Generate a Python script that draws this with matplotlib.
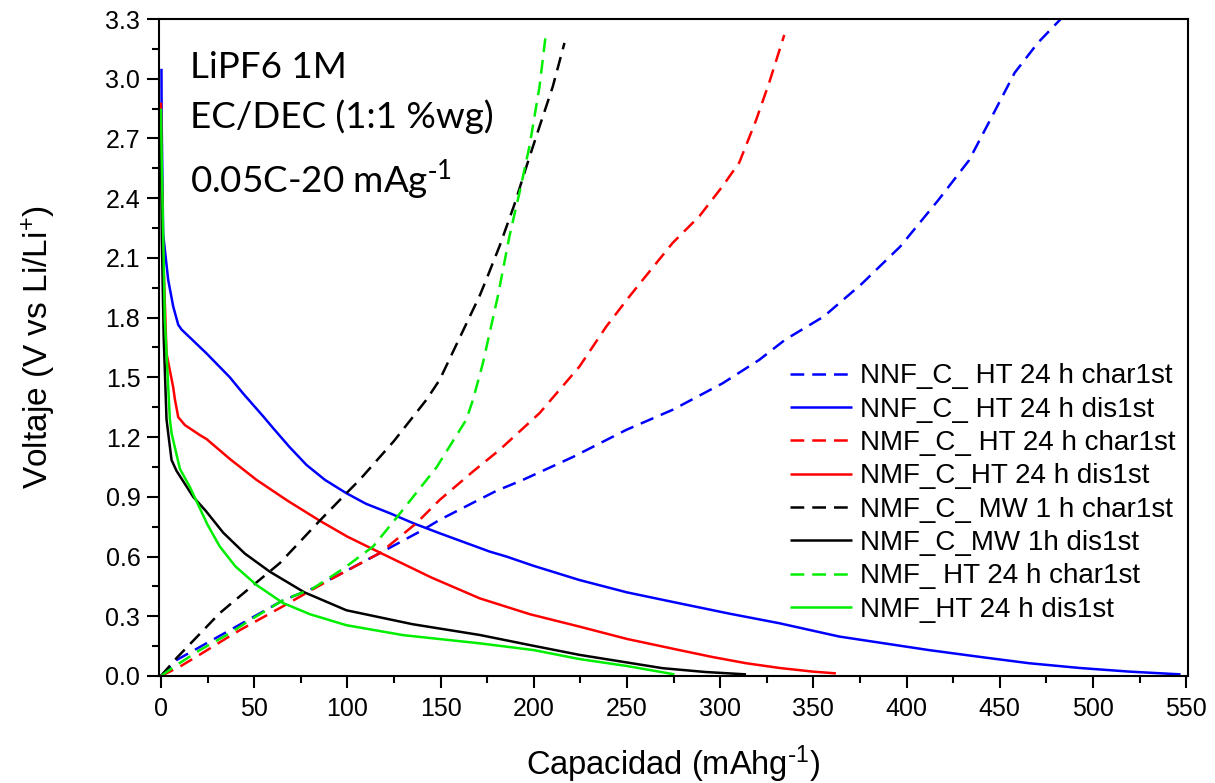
import matplotlib
matplotlib.use("Agg")
import matplotlib.pyplot as plt
from matplotlib.ticker import MultipleLocator

plt.rcParams['font.family'] = ['Liberation Sans', 'DejaVu Sans']
plt.rcParams['mathtext.default'] = 'regular'

# First-cycle charge / discharge curves: capacity (mAh/g) vs voltage (V)
nnf_ht_char_x = [0, 8.4, 37, 65.5, 81.6, 117.4, 140.6, 149.5, 167.4, 180, 194.2, 221, 249.6,
                 274.5, 301.3, 321, 335, 355.5, 376, 396.6, 417, 433.5, 445.8, 458, 470.4, 482.7]
nnf_ht_char_v = [0, 0.08, 0.23, 0.38, 0.44, 0.617, 0.734, 0.784, 0.87, 0.93, 0.985, 1.10, 1.236,
                 1.337, 1.47, 1.588, 1.69, 1.805, 1.97, 2.157, 2.39, 2.59, 2.81, 3.03, 3.18, 3.30]

nnf_ht_dis_x = [0.3, 0.4, 1.2, 3.9, 6.6, 9.3, 11.1, 24.5, 37, 44, 54.8, 60.2, 69, 78.1, 88,
                99.5, 110, 122.7, 136, 149.5, 176.3, 185.3, 200, 224.5, 250, 278.1, 305,
                331.7, 363.9, 412, 440, 465.7, 493, 519.3, 547]
nnf_ht_dis_v = [3.05, 2.79, 2.22, 1.99, 1.856, 1.764, 1.74, 1.62, 1.50, 1.42, 1.305, 1.245,
                1.15, 1.06, 0.985, 0.918, 0.865, 0.818, 0.765, 0.717, 0.625, 0.60, 0.553,
                0.482, 0.42, 0.365, 0.313, 0.265, 0.198, 0.13, 0.095, 0.064, 0.04, 0.022,
                0.008]

nmf_c_ht_char_x = [0, 10.2, 19.1, 35.2, 42.3, 65.5, 88.8, 117.4, 137, 149.5, 167.4, 181.7,
                   203.1, 224.5, 238.9, 251.3, 258.5, 274.5, 288.9, 301.3, 310.3, 319.2,
                   326.3, 334.4]
nmf_c_ht_char_v = [0, 0.047, 0.097, 0.19, 0.23, 0.35, 0.474, 0.617, 0.767, 0.884, 1.027,
                   1.136, 1.32, 1.554, 1.755, 1.906, 1.99, 2.175, 2.31, 2.46, 2.58, 2.79,
                   2.98, 3.22]

nmf_c_ht_dis_x = [0, 0.5, 1.2, 3, 6.6, 7.5, 9.3, 12.9, 20.9, 24.5, 37, 51.3, 68, 85.2, 100,
                  117.4, 145, 171, 198, 224.5, 250, 278.1, 296, 313.9, 332, 349.6, 362.1]
nmf_c_ht_dis_v = [2.88, 2.5, 2.13, 1.62, 1.45, 1.39, 1.30, 1.26, 1.21, 1.19, 1.09, 0.985,
                  0.88, 0.78, 0.70, 0.62, 0.495, 0.39, 0.31, 0.248, 0.186, 0.13, 0.095,
                  0.064, 0.04, 0.022, 0.013]

nmf_c_mw_char_x = [0, 8.4, 31.6, 42.3, 63.8, 85.2, 99.5, 106.6, 125, 142.4, 149.5, 171,
                   174.5, 181.7, 189.7, 196.8, 203.1, 210.2, 216.5]
nmf_c_mw_char_v = [0, 0.09, 0.316, 0.40, 0.567, 0.78, 0.918, 0.985, 1.18, 1.387, 1.487,
                   1.91, 1.99, 2.16, 2.37, 2.58, 2.76, 2.96, 3.18]

nmf_c_mw_dis_x = [0, 0.5, 1.5, 3, 3.9, 5.7, 8.4, 17.3, 24, 33.4, 45, 58.4, 77, 99.5, 135,
                  171, 198, 224.5, 269.2, 292, 313.9]
nmf_c_mw_dis_v = [2.75, 2.2, 1.7, 1.29, 1.22, 1.085, 1.03, 0.90, 0.83, 0.72, 0.615, 0.524,
                  0.42, 0.33, 0.26, 0.206, 0.155, 0.106, 0.039, 0.02, 0.008]

nmf_ht_char_x = [0, 8.4, 20.9, 37, 47.7, 65.5, 81.6, 98, 113.8, 126, 148, 163.8, 167.4,
                 172.7, 180.8, 187, 192.4, 197.7, 203.1, 206.3]
nmf_ht_char_v = [0, 0.055, 0.13, 0.215, 0.28, 0.38, 0.44, 0.54, 0.65, 0.79, 1.05, 1.287,
                 1.387, 1.57, 1.91, 2.21, 2.43, 2.66, 2.96, 3.21]

nmf_ht_dis_x = [0, 0.4, 2.1, 4.8, 5.7, 10.2, 15.5, 19, 25, 31.6, 40, 51.3, 65.4, 80, 99.5,
                130, 171, 200, 224.5, 250, 275.5]
nmf_ht_dis_v = [2.85, 2.6, 1.79, 1.29, 1.22, 1.04, 0.95, 0.88, 0.76, 0.65, 0.55, 0.457,
                0.367, 0.31, 0.255, 0.205, 0.164, 0.13, 0.085, 0.05, 0.008]

labels = ["NNF_C_ HT 24 h char1st", "NNF_C_ HT 24 h dis1st",
          "NMF_C_ HT 24 h char1st", "NMF_C_HT 24 h dis1st",
          "NMF_C_ MW 1 h char1st", "NMF_C_MW 1h dis1st",
          "NMF_ HT 24 h char1st", "NMF_HT 24 h dis1st"]

x_ticks = [0, 50, 100, 150, 200, 250, 300, 350, 400, 450, 500, 550]
y_ticks = [0.0, 0.3, 0.6, 0.9, 1.2, 1.5, 1.8, 2.1, 2.4, 2.7, 3.0, 3.3]

BLUE, RED, BLACK, GREEN = "#0000ff", "#ff0000", "#000000", "#00ee00"

fig = plt.figure(figsize=(12.15, 7.83), dpi=100)
ax = fig.add_axes([0.1309, 0.1367, 0.8469, 0.839])

series = [
    (nnf_ht_char_x, nnf_ht_char_v, BLUE, True),
    (nnf_ht_dis_x, nnf_ht_dis_v, BLUE, False),
    (nmf_c_ht_char_x, nmf_c_ht_char_v, RED, True),
    (nmf_c_ht_dis_x, nmf_c_ht_dis_v, RED, False),
    (nmf_c_mw_char_x, nmf_c_mw_char_v, BLACK, True),
    (nmf_c_mw_dis_x, nmf_c_mw_dis_v, BLACK, False),
    (nmf_ht_char_x, nmf_ht_char_v, GREEN, True),
    (nmf_ht_dis_x, nmf_ht_dis_v, GREEN, False),
]

for (xs, vs, col, dashed), lab in zip(series, labels):
    line, = ax.plot(xs, vs, color=col, lw=1.8, label=lab, solid_capstyle='butt',
                    solid_joinstyle='round')
    if dashed:
        line.set_dashes((5.5, 3.2))

ax.set_xlim(-1, 551)
ax.set_ylim(0, 3.3)
ax.set_xticks(x_ticks)
ax.set_yticks(y_ticks)
ax.set_yticklabels([f"{v:.1f}" for v in y_ticks])
ax.xaxis.set_minor_locator(MultipleLocator(25))
ax.yaxis.set_minor_locator(MultipleLocator(0.15))

for sp in ax.spines.values():
    sp.set_linewidth(1.5)
ax.tick_params(which='both', direction='out', top=False, right=False, width=1.5)
ax.tick_params(which='major', length=8.5, labelsize=18)
ax.tick_params(axis='x', which='major', pad=7)
ax.tick_params(axis='y', which='major', pad=5)
ax.tick_params(which='minor', length=5)

ax.set_xlabel(r"Capacidad (mAhg$^{\text{-}1}$)", fontsize=23.5, labelpad=16)
ax.set_ylabel("Voltaje (V vs Li/Li$^{+}$)", fontsize=24, labelpad=34)

note_font = ['Lato', 'DejaVu Sans']
ax.text(15.5, 3.005, "LiPF6 1M", fontsize=26.5, family=note_font, va='baseline')
ax.text(15.5, 2.754, "EC/DEC (1:1 %wg)", fontsize=26.5, family=note_font, va='baseline')
ax.text(15.5, 2.427, r"0.05C-20 mAg$^{\text{-}1}$", fontsize=26.5, family=note_font,
        va='baseline')

ax.legend(loc='upper left', bbox_to_anchor=(0.613, 0.476), frameon=False,
          fontsize=20, borderpad=0, borderaxespad=0, handlelength=2.23,
          handletextpad=0.29, labelspacing=0.265)

fig.savefig("out.png", dpi=100)
